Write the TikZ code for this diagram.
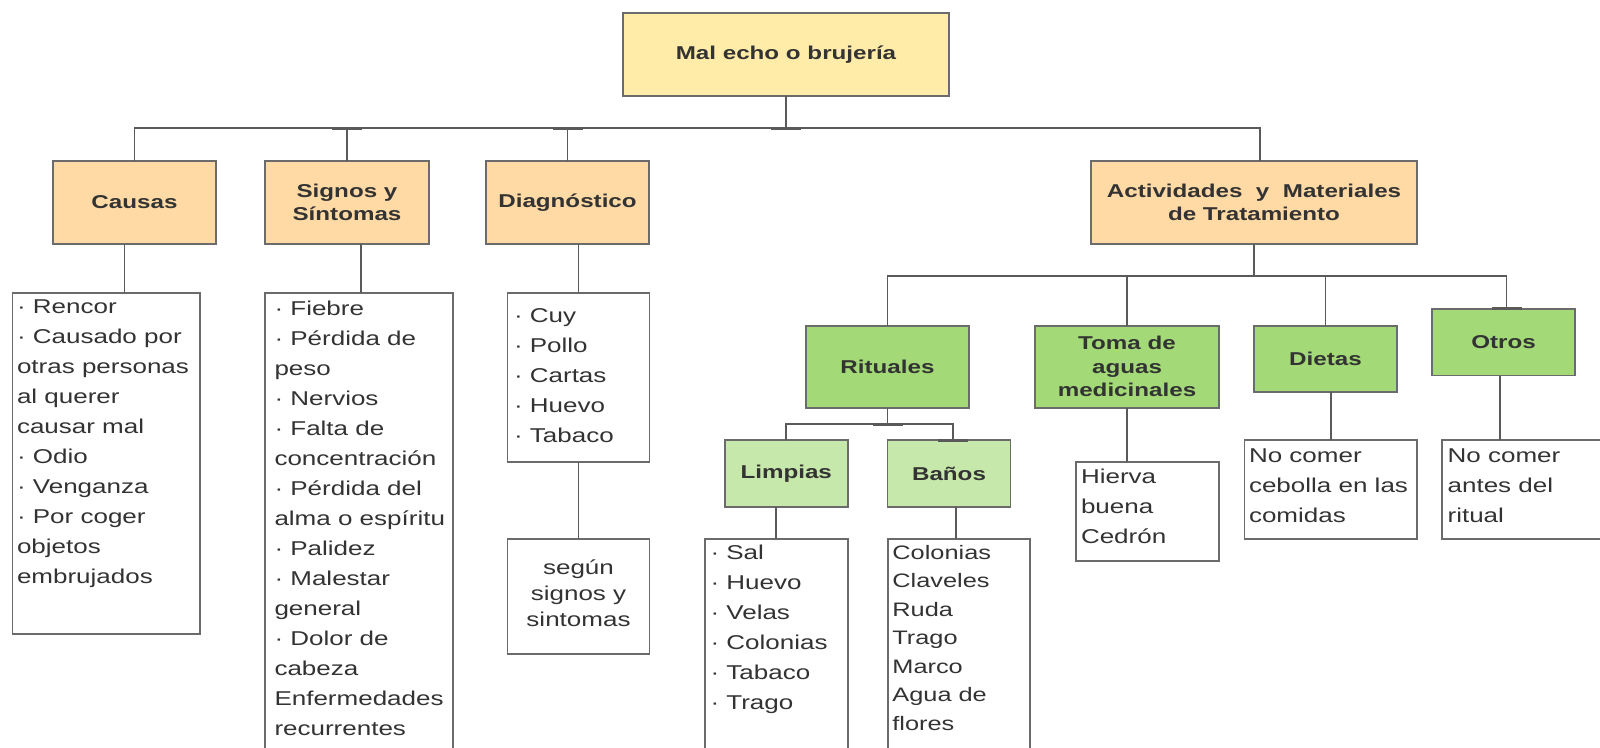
\documentclass[tikz,border=0pt]{standalone}
\usepackage{fontspec}
\setmainfont{Liberation Sans}[FakeStretch=1.3]
\definecolor{rootfill}{HTML}{FFECA8}
\definecolor{orangefill}{HTML}{FFDAA5}
\definecolor{greenfill}{HTML}{A3D977}
\definecolor{lightgreen}{HTML}{C6E8AA}
\definecolor{bordergray}{HTML}{6B6B6B}
\definecolor{linegray}{HTML}{5A5A5A}
\definecolor{textgray}{HTML}{333333}
\newcommand{\fl}{\rule{0pt}{20pt}}
\begin{document}
\begin{tikzpicture}[x=1pt,y=-1pt,
  box/.style={draw=bordergray, line width=1.6pt, inner sep=0pt, outer sep=0pt, align=center, text=textgray, font=\bfseries\fontsize{18.6}{23.5}\selectfont},
  rootbox/.style={box, fill=rootfill},
  lone/.style={box, fill=orangefill},
  ltwo/.style={box, fill=greenfill},
  lthree/.style={box, fill=lightgreen},
  listbox/.style={draw=bordergray, line width=1.6pt, fill=white, inner sep=0pt, outer sep=0pt},
  listtext/.style={anchor=north west, inner sep=0pt, outer sep=0pt, align=left, text=textgray, font=\fontsize{20}{30}\selectfont},
  conn/.style={draw=linegray, line width=1.7pt},
  tabmark/.style={draw=linegray, line width=3pt},
]
\fill[white] (0,0) rectangle (1600,747);
\useasboundingbox (0,0) rectangle (1600,747);

% level 0 and 1
\node[rootbox, minimum width=326, minimum height=83] (root) at (786,54.5) {Mal echo o brujería};
\node[lone, minimum width=163, minimum height=83] (causas) at (134.5,202.5) {Causas};
\node[lone, minimum width=164, minimum height=83] (signos) at (347,202.5) {Signos y\\Síntomas};
\node[lone, minimum width=163, minimum height=83] (diag) at (567.5,202.5) {Diagnóstico};
\node[lone, minimum width=326, minimum height=83] (act) at (1254,202.5) {Actividades\ \ y\ \ Materiales\\de Tratamiento};

% lists under level 1
\node[listbox, minimum width=187.5, minimum height=341] (clist) at (106.25,463.5) {};
\node[listbox, minimum width=188, minimum height=467] (slist) at (359,526.5) {};
\node[listbox, minimum width=142, minimum height=169] (dlist) at (578.5,377.5) {};
\node[listbox, minimum width=142, minimum height=115] (segun) at (578.5,596.5) {};

\node[listtext] (clistT) at (17,293.7) {\fl· Rencor\\· Causado por\\otras personas\\al querer\\causar mal\\· Odio\\· Venganza\\· Por coger\\objetos\\embrujados};
\node[listtext] (slistT) at (274.5,295) {\fl· Fiebre\\· Pérdida de\\peso\\· Nervios\\· Falta de\\concentración\\· Pérdida del\\alma o espíritu\\· Palidez\\· Malestar\\general\\· Dolor de\\cabeza\\Enfermedades\\recurrentes};
\node[listtext] (dlistT) at (514,302) {\fl· Cuy\\· Pollo\\· Cartas\\· Huevo\\· Tabaco};
\node[listtext, anchor=north, align=center, font=\fontsize{20}{26}\selectfont] (segunT) at (578.5,554) {\fl según\\signos y\\sintomas};

% level 2
\node[ltwo, minimum width=163, minimum height=82] (rit) at (887.5,366.7) {Rituales};
\node[ltwo, minimum width=184, minimum height=82] (toma) at (1127,366.7) {Toma de\\aguas\\medicinales};
\node[ltwo, minimum width=143, minimum height=66] (dietas) at (1325.5,358.7) {Dietas};
\node[ltwo, minimum width=143, minimum height=66.7] (otros) at (1503.5,342.3) {Otros};

% level 3
\node[lthree, minimum width=123, minimum height=67] (limp) at (786.2,473.5) {Limpias};
\node[lthree, minimum width=123, minimum height=67] (banos) at (949,473.5) {Baños};

% lists under level 2/3
\node[listbox, minimum width=143, minimum height=221] (llist) at (776.2,649.5) {};
\node[listbox, minimum width=142.3, minimum height=221] (blist) at (958.9,649.5) {};
\node[listbox, minimum width=143, minimum height=99] (hierva) at (1147.5,511.5) {};
\node[listbox, minimum width=172.5, minimum height=99] (dietL) at (1330.75,489.5) {};
\node[listbox, minimum width=178.3, minimum height=99] (otrosL) at (1530.85,489.5) {};

\node[listtext] (llistT) at (710.5,539.5) {\fl· Sal\\· Huevo\\· Velas\\· Colonias\\· Tabaco\\· Trago};
\node[listtext, font=\fontsize{19.5}{28.5}\selectfont] (blistT) at (892.4,539) {\fl Colonias\\Claveles\\Ruda\\Trago\\Marco\\Agua de\\flores};
\node[listtext] (hiervaT) at (1081,463.7) {\fl Hierva\\buena\\Cedrón};
\node[listtext] (dietLT) at (1249,442) {\fl No comer\\cebolla en las\\comidas};
\node[listtext] (otrosLT) at (1447.6,442) {\fl No comer\\antes del\\ritual};

% main bus
\draw[conn] (causas.north) -- ++(0,-33) coordinate (b1) -| ([xshift=6]act.north);
\draw[conn] (root.south) -- (root.south |- b1);
\draw[conn] (signos.north) -- (signos.north |- b1);
\draw[conn] (diag.north) -- (diag.north |- b1);
\draw[tabmark] ([xshift=-15]signos.north |- b1) -- ([xshift=15]signos.north |- b1);
\draw[tabmark] ([xshift=-15]diag.north |- b1) -- ([xshift=15]diag.north |- b1);
\draw[tabmark] ([xshift=-15]root.south |- b1) -- ([xshift=15]root.south |- b1);

% level 1 to lists
\draw[conn] ([xshift=-10]causas.south) -- ([xshift=-10]causas.south |- clist.north);
\draw[conn] ([xshift=14]signos.south) -- ([xshift=14]signos.south |- slist.north);
\draw[conn] (dlist.north) -- (dlist.north |- diag.south);
\draw[conn] (dlist.south) -- (segun.north);

% activities bus
\draw[conn] (rit.north) -- ++(0,-50) coordinate (b2) -| ([xshift=3]otros.north);
\draw[conn] (act.south) -- (act.south |- b2);
\draw[conn] (toma.north) -- (toma.north |- b2);
\draw[conn] (dietas.north) -- (dietas.north |- b2);
\draw[tabmark] ([xshift=-12]otros.north) -- ([xshift=18]otros.north);

% rituales bus
\draw[conn] (limp.north) -- ++(0,-16) coordinate (b3) -| ([xshift=4]banos.north);
\draw[conn] (rit.south) -- (rit.south |- b3);
\draw[tabmark] ([xshift=-15]rit.south |- b3) -- ([xshift=15]rit.south |- b3);
\draw[tabmark] ([xshift=-11]banos.north) -- ([xshift=19]banos.north);

% level 2/3 to lists
\draw[conn] (llist.north) -- (llist.north |- limp.south);
\draw[conn] ([xshift=7]banos.south) -- ([xshift=7]banos.south |- blist.north);
\draw[conn] (toma.south) -- (toma.south |- hierva.north);
\draw[conn] (dietL.north) -- (dietL.north |- dietas.south);
\draw[conn] ([xshift=-3.5]otros.south) -- ([xshift=-3.5]otros.south |- otrosL.north);
\end{tikzpicture}
\end{document}
